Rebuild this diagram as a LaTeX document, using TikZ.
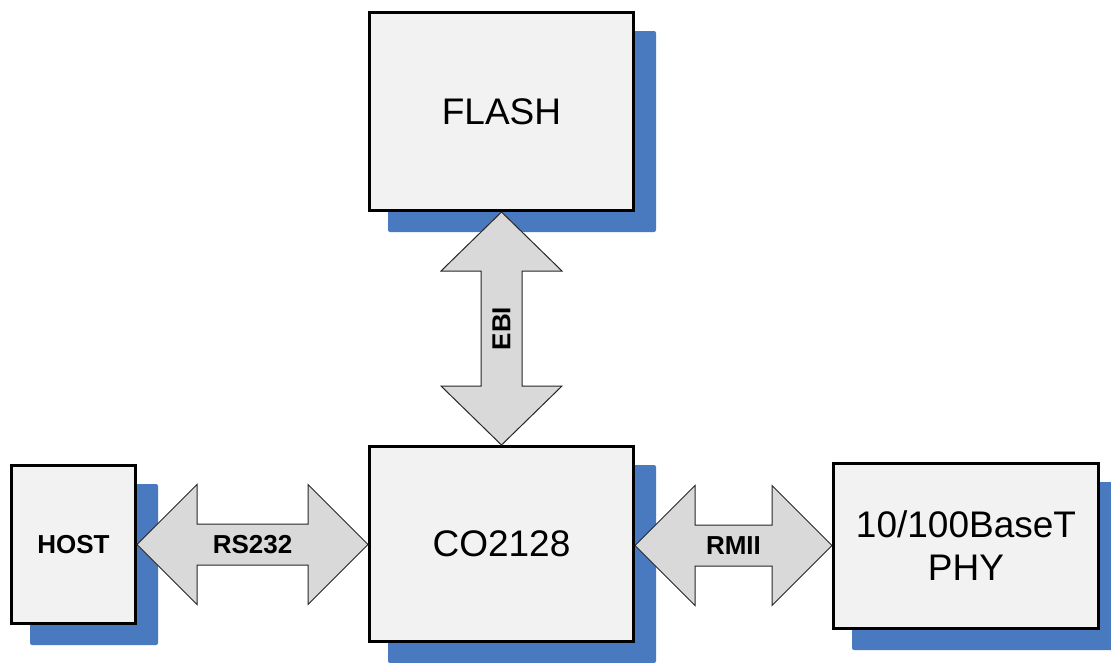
\documentclass[tikz,border=0pt]{standalone}
\usepackage{fontspec}
\setmainfont{Liberation Sans}
\usetikzlibrary{calc,backgrounds,positioning}
\definecolor{shd}{RGB}{73,122,192}
\colorlet{blkfill}{gray!10}
\colorlet{busfill}{gray!30}
\tikzset{
  blk/.style    = { draw, line width=2.25pt, fill=blkfill, align=center, inner sep=0pt,
    font=\fontsize{27.75}{32.25}\selectfont },
  bus/.style    = { draw=black!85, line width=0.75pt, fill=busfill, line join=miter },
  buslbl/.style = { font=\bfseries\fontsize{19.5}{23}\selectfont, inner sep=0pt },
  shadowbox/.style = { fill=shd, rounded corners=1.5pt }
}
% double block arrow, left tip to right tip
\newcommand{\hbus}[3]{%
  \path[bus] (#1) -- ($(#1)+(60,-60)$) -- ($(#1)+(60,-20.5)$) -- ($(#2)+(-60,-20.5)$)
    -- ($(#2)+(-60,-60)$) -- (#2) -- ($(#2)+(-60,60)$) -- ($(#2)+(-60,20.5)$)
    -- ($(#1)+(60,20.5)$) -- ($(#1)+(60,60)$) -- cycle;
  \path (#1) -- (#2) node[midway, buslbl] {#3};}
% double block arrow, top tip to bottom tip
\newcommand{\vbus}[3]{%
  \path[bus] (#1) -- ($(#1)+(60.5,59)$) -- ($(#1)+(20.5,59)$) -- ($(#2)+(20.5,-59)$)
    -- ($(#2)+(60.5,-59)$) -- (#2) -- ($(#2)+(-60.5,-59)$) -- ($(#2)+(-20.5,-59)$)
    -- ($(#1)+(-20.5,59)$) -- ($(#1)+(-60.5,59)$) -- cycle;
  \path (#1) -- (#2) node[midway, buslbl, rotate=90] {#3};}

\begin{document}
\begin{tikzpicture}[x=0.75pt, y=-0.75pt]
  \useasboundingbox (0,0) rectangle (1111,662);
  \node[blk, minimum width=198pt, minimum height=148.5pt] (flash) at (501.5,111.5) {FLASH};
  \node[blk, minimum width=198pt, minimum height=146.25pt] (cpu) at (501.5,544) {CO2128};
  \node[blk, minimum width=93pt, minimum height=118.5pt,
    font=\bfseries\fontsize{19.5}{23}\selectfont] (host) at (73.5,544.5) {HOST};
  \node[blk, minimum width=198.75pt, minimum height=123.75pt] (phy) at (966,546) {10/100BaseT\\PHY};
  % shadows
  \begin{scope}[on background layer]
    \foreach \n in {flash,cpu,host,phy}
      \fill[shadowbox] ($(\n.north west)+(20,20)$) rectangle ($(\n.south east)+(21,20)$);
  \end{scope}
  % buses
  \coordinate (rs-a) at (host.east);
  \coordinate (rs-b) at (host.east -| cpu.west);
  \coordinate (rm-a) at ($(cpu.east)+(0,1.5)$);
  \coordinate (rm-b) at (rm-a -| phy.west);
  \coordinate (ebi-a) at (flash.south);
  \coordinate (ebi-b) at (cpu.north);
  \hbus{rs-a}{rs-b}{RS232}
  \hbus{rm-a}{rm-b}{RMII}
  \vbus{ebi-a}{ebi-b}{EBI}
\end{tikzpicture}
\end{document}
